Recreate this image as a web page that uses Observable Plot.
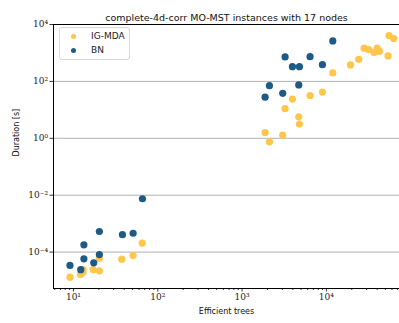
<!DOCTYPE html>
<html>
<head>
<meta charset="utf-8">
<script src="https://cdn.jsdelivr.net/npm/d3@7"></script>
<script src="https://cdn.jsdelivr.net/npm/@observablehq/plot@0.6"></script>
<style>
  html, body { margin: 0; padding: 0; background: #fff; }
  #wrap { position: relative; width: 399px; height: 323px; overflow: hidden; }
  #legend { position: absolute; left: 59px; top: 27px; width: 69px; height: 31px;
    border: 1px solid #d9d9d9; border-radius: 3px; background: rgba(255,255,255,0.85);
    font-family: "DejaVu Sans", sans-serif; font-size: 9px; color: #222; }
  .li { position: absolute; left: 0; display: flex; align-items: center; }
  .sw { width: 5px; height: 5px; border-radius: 50%; margin-left: 11px; margin-right: 15px; }
</style>
</head>
<body>
<div id="wrap"><div id="chart"></div>
<div id="legend">
  <div class="li" style="top:3px"><span class="sw" style="background:#ffc64a"></span>IG-MDA</div>
  <div class="li" style="top:17px"><span class="sw" style="background:#1d5a85"></span>BN</div>
</div>
</div>
<script>
const seriesNames = ["IG-MDA", "BN"];
const seriesColors = ["#ffc64a", "#1d5a85"];

const igTrees = [9.1, 12.1, 13.0, 13.0, 17.1, 20.3, 20.3, 37.4, 51, 65.3,
  1875, 2110, 3034, 3236, 3953, 4700, 4786, 6397, 8970, 11900,
  19300, 24200, 28000, 31800, 36700, 39900, 42500, 53800, 55300, 62800];
const igDuration = [1.31e-5, 1.62e-5, 1.97e-5, 2.43e-5, 2.43e-5, 2.19e-5, 6.1e-5, 5.65e-5, 7.6e-5, 2.07e-4,
  1.6, 0.75, 1.29, 11, 24, 5.7, 3.15, 32, 42, 198,
  378, 600, 1466, 1315, 1030, 1466, 1150, 785, 4090, 3200];

const bnTrees = [9.1, 12.2, 13.3, 13.3, 17.4, 20.3, 20.3, 38.1, 51, 65.8,
  1875, 2110, 3034, 3236, 3953, 4786, 4700, 6397, 8970, 11900];
const bnDuration = [3.4e-5, 2.4e-5, 1.8e-4, 5.8e-5, 4.2e-5, 5.3e-4, 8.2e-5, 4.1e-4, 4.6e-4, 7.5e-3,
  28, 71, 38, 724, 330, 330, 75, 740, 388, 2650];

const xMajor = [10, 100, 1000, 10000];
const xMinor = [6, 7, 8, 9, 20, 30, 40, 50, 60, 70, 80, 90,
  200, 300, 400, 500, 600, 700, 800, 900,
  2000, 3000, 4000, 5000, 6000, 7000, 8000, 9000,
  20000, 30000, 40000, 50000, 60000, 70000];
const yMajor = [1e-4, 1e-2, 1, 1e2, 1e4];
const yGrid = [1e-4, 1e-2, 1, 1e2];

const xDomain = [5.8, 73600];
const yDomain = [5.25e-6, 1e4];

const sup = {"-": "⁻", "0": "⁰", "1": "¹", "2": "²", "3": "³", "4": "⁴", "5": "⁵", "6": "⁶", "7": "⁷", "8": "⁸", "9": "⁹"};
const fmt = d => "10" + String(Math.round(Math.log10(d))).split("").map(c => sup[c]).join("");

const data = [
  ...igTrees.map((t, i) => ({trees: t, duration: igDuration[i], series: seriesNames[0]})),
  ...bnTrees.map((t, i) => ({trees: t, duration: bnDuration[i], series: seriesNames[1]}))
];

const chart = Plot.plot({
  width: 399,
  height: 323,
  marginLeft: 53,
  marginRight: 0,
  marginTop: 24,
  marginBottom: 35,
  style: {fontFamily: "DejaVu Sans, sans-serif", background: "#fff", overflow: "visible"},
  x: {type: "log", domain: xDomain},
  y: {type: "log", domain: yDomain},
  color: {domain: seriesNames, range: seriesColors},
  marks: [
    Plot.ruleY(yGrid, {stroke: "#b0b0b0", strokeWidth: 1}),
    Plot.dot(data, {x: "trees", y: "duration", fill: "series", r: 3.6, stroke: "none"}),
    Plot.axisX(xMinor, {tickSize: 2, tickFormat: null, label: null, stroke: "#000", strokeWidth: 0.8}),
    Plot.axisX(xMajor, {tickSize: 3.5, tickFormat: fmt, tickPadding: 2, label: null,
      fontFamily: "DejaVu Serif, serif", fontSize: 9, fill: "#222", stroke: "#000", strokeWidth: 0.8}),
    Plot.axisY(yMajor, {tickSize: 3.5, tickFormat: fmt, tickPadding: 2, label: null,
      fontFamily: "DejaVu Serif, serif", fontSize: 9, fill: "#222", stroke: "#000", strokeWidth: 0.8}),
    Plot.frame({anchor: "left", stroke: "#000", strokeWidth: 1}),
    Plot.frame({anchor: "bottom", stroke: "#000", strokeWidth: 1}),
    Plot.frame({anchor: "top", stroke: "#000", strokeWidth: 1}),
    Plot.text(["complete-4d-corr MO-MST instances with 17 nodes"], {frameAnchor: "top", dy: -10, fontSize: 9.5, fill: "#111"}),
    Plot.text(["Efficient trees"], {frameAnchor: "bottom", dy: 25, fontSize: 8, fill: "#111"}),
    Plot.text(["Duration [s]"], {frameAnchor: "left", dx: -37, rotate: -90, fontSize: 8, fill: "#111"})
  ]
});
document.getElementById("chart").appendChild(chart);
</script>
</body>
</html>
